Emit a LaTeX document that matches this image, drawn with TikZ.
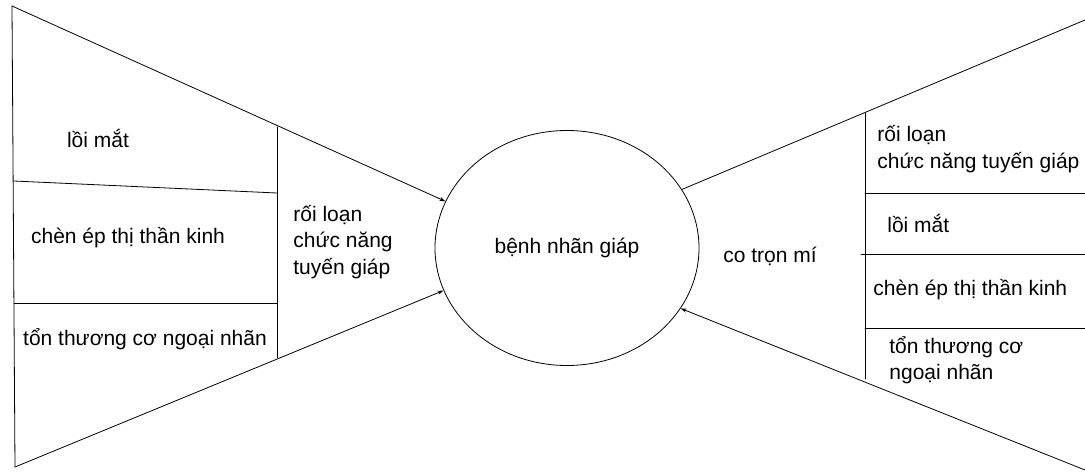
\documentclass[tikz,border=0pt]{standalone}
\usepackage{fontspec}
\setmainfont{Liberation Sans}
\usetikzlibrary{arrows.meta,shapes.geometric}

\begin{document}
\begin{tikzpicture}[x=1pt,y=-1pt,line width=.8pt,line cap=round,
  font=\fontsize{21}{26.5}\selectfont,
  >={Stealth[length=6pt,width=4pt]},
  txt/.style={inner sep=0pt,align=left},
  hub/.style={draw,ellipse,minimum width=264pt,minimum height=235pt,inner sep=0pt}]
\path[use as bounding box] (0,0) rectangle (1085,472);
\fill[white] (0,0) rectangle (1085,472);

% trung tam
\node[hub] (benh) at (567,248) {bệnh nhãn giáp};

% ben trai
\coordinate (ltop) at (12,6);
\coordinate (lbot) at (15,467);
\draw (ltop) -- (lbot);
\draw[->] (ltop) -- (benh.159);
\draw[->] (lbot) -- (benh.199);
\draw (277,127) -- (277,358);
\draw (14,181) -- (277,193);
\draw (14,303) -- (277,303);
\node[txt] (loiL) at (98,138) {lồi mắt};
\node[txt] (chenL) at (128,238) {chèn ép thị thần kinh};
\node[txt] (tonL) at (145,339) {tổn thương cơ ngoại nhãn};
\node[txt,anchor=west] (roiL) at (293,242) {rối loạn\\chức năng\\tuyến giáp};

% ben phai
\coordinate (rtop) at (1085,20);
\coordinate (rbot) at (1085,470);
\draw (benh.27) -- (rtop);
\draw[->] (rbot) -- (benh.332);
\draw (865,113) -- (865,379);
\draw (865,193) -- (1085,193);
\draw (861,254) -- (1085,254);
\draw (865,328) -- (1085,328);
\node[txt] (coTron) at (770,256) {co trọn mí};
\node[txt,anchor=west] (roiR) at (877,149) {rối loạn\\chức năng tuyến giáp};
\node[txt,anchor=west] (loiR) at (887,223) {lồi mắt};
\node[txt,anchor=west] (chenR) at (873,290) {chèn ép thị thần kinh};
\node[txt,anchor=west] (tonR) at (889,360) {tổn thương cơ\\ngoại nhãn};
\end{tikzpicture}
\end{document}
